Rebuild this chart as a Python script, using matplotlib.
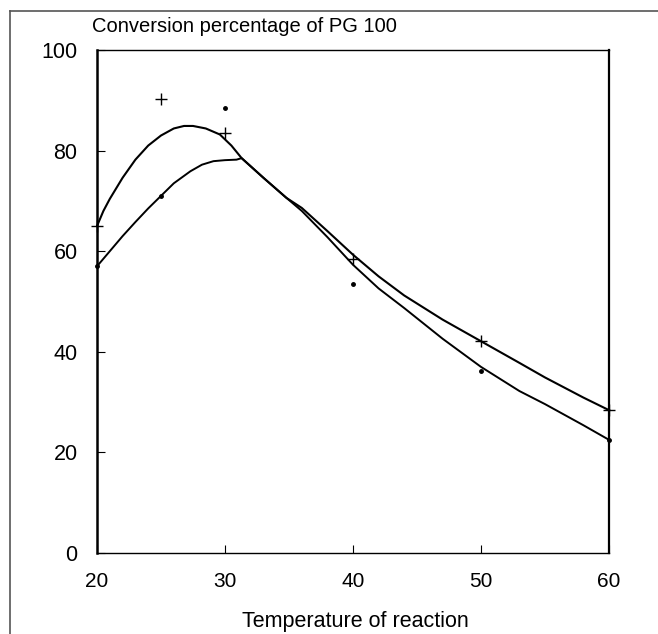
import matplotlib
matplotlib.use("Agg")
import matplotlib.pyplot as plt
from matplotlib.lines import Line2D

plt.rcParams['font.family'] = ['Liberation Sans', 'DejaVu Sans']

# Measured points (crosses) and (dots)
cross_x = [20, 25, 30, 40, 50, 60]
cross_y = [65, 90.3, 83.4, 58.5, 42.1, 28.4]
dot_x = [20, 25, 30, 40, 50, 60]
dot_y = [57.0, 71.0, 88.5, 53.5, 36.2, 22.5]

# Fitted curves
curve_a_x = [20, 20.5, 21, 22, 23, 24, 25, 26, 26.8, 27.5, 28.5, 29.6, 30.5, 31.3, 33, 34.8, 36, 38, 40, 42, 44, 47, 50, 53, 55, 58, 60]
curve_a_y = [65, 68.0, 70.4, 74.6, 78.2, 81.0, 83.0, 84.4, 84.9, 84.9, 84.4, 83.2, 81.0, 78.5, 74.6, 70.6, 68.6, 64.0, 59.3, 55.0, 51.2, 46.4, 42.1, 37.8, 34.9, 30.9, 28.4]
curve_b_x = [20, 21, 22, 23, 24, 25, 26, 27.3, 28.2, 29.1, 30.0, 30.9, 31.3, 33, 34.8, 36, 38, 40, 42, 44, 47, 50, 53, 55, 58, 60]
curve_b_y = [57, 60.0, 63.0, 65.8, 68.5, 71.0, 73.5, 75.9, 77.2, 77.9, 78.1, 78.2, 78.5, 74.6, 70.6, 68.0, 62.8, 57.3, 52.6, 48.7, 42.6, 37.0, 32.2, 29.6, 25.4, 22.5]

x_ticks = [20, 30, 40, 50, 60]
y_ticks = [0, 20, 40, 60, 80, 100]

W, H = 658, 634
fig = plt.figure(figsize=(W / 100, H / 100), dpi=100)
left, right, top, bottom = 97, 609, 50, 553
ax = fig.add_axes([left / W, 1 - bottom / H, (right - left) / W, (bottom - top) / H])

ax.plot(curve_a_x, curve_a_y, color='black', lw=1.5, solid_joinstyle='round', clip_on=False)
ax.plot(curve_b_x, curve_b_y, color='black', lw=1.4, solid_joinstyle='round', clip_on=False)
ax.plot(cross_x, cross_y, linestyle='none', marker='+', markersize=9, mew=1.0, color='black', clip_on=False)
ax.plot(dot_x, dot_y, linestyle='none', marker='o', markersize=2.5, color='black', clip_on=False)

ax.set_xlim(20, 60)
ax.set_ylim(0, 100)
ax.set_xticks(x_ticks)
ax.set_yticks(y_ticks)
ax.set_xticklabels([str(v) for v in x_ticks], fontsize=15)
ax.set_yticklabels([str(v) for v in y_ticks], fontsize=15.5)
ax.tick_params(direction='in', length=6, width=0.8, color='black')
ax.tick_params(axis='x', pad=14)
ax.tick_params(axis='y', pad=14)
for side, lw in [('left', 1.8), ('right', 1.6), ('top', 1.0), ('bottom', 1.0)]:
    ax.spines[side].set_linewidth(lw)
    ax.spines[side].set_color('black')

ax.set_xlabel('Temperature of reaction', fontsize=15.5)
ax.xaxis.set_label_coords((355 - left) / (right - left), -(611 - bottom) / (bottom - top))
fig.text(92 / W, 1 - 26 / H, 'Conversion percentage of PG 100', fontsize=14.5,
         ha='left', va='center')

# frame of the page (top and left edges)
fig.add_artist(Line2D([10 / W, 1.0], [1 - 11 / H, 1 - 11 / H], transform=fig.transFigure,
                      color='#555555', lw=1.2))
fig.add_artist(Line2D([10 / W, 10 / W], [1 - 11 / H, 0.0], transform=fig.transFigure,
                      color='#555555', lw=1.2))

fig.savefig('out.png', dpi=100)
